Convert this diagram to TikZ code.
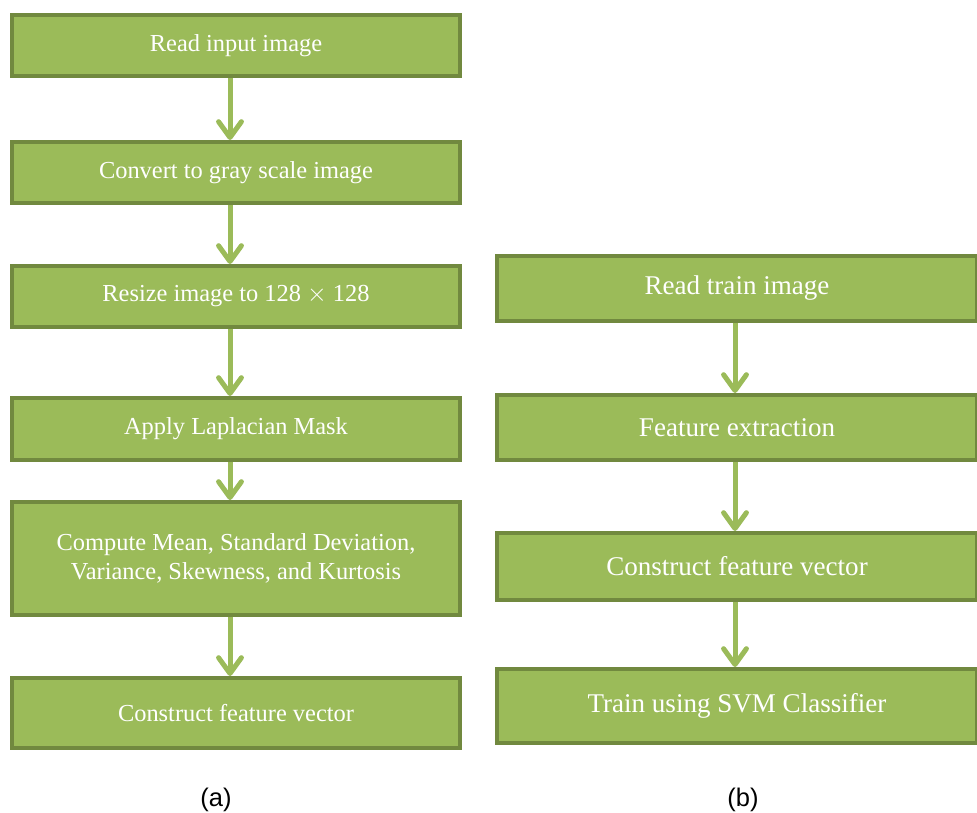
\documentclass[tikz,border=0pt]{standalone}
\usepackage{fontspec}
\setmainfont{Liberation Serif}
\newfontfamily\capfont{Liberation Sans}
\usetikzlibrary{arrows.meta}
\definecolor{boxgreen}{HTML}{9BBB59}
\definecolor{edgegreen}{HTML}{71893F}

\begin{document}
\begin{tikzpicture}[x=0.02cm, y=-0.02cm]%
	\tikzstyle{box}=[rectangle, draw=edgegreen, fill=boxgreen, line width=0.08cm, text=white, align=center];
	\tikzstyle{boxa}=[box, minimum width=8.96cm, font=\fontsize{13.9}{16.5}\selectfont];
	\tikzstyle{boxb}=[box, minimum width=9.6cm, font=\fontsize{15.4}{18}\selectfont];
	\tikzstyle{flow}=[draw=boxgreen, line width=0.1cm, -{Straight Barb[length=9pt, width=13pt, line cap=round, round]}];
	\useasboundingbox (0, 0) rectangle (977, 813);
	% (a)
	\node[boxa, minimum height=1.22cm] (a1) at (236, 45.5) {Read input image};
	\node[boxa, minimum height=1.22cm] (a2) at (236, 172.5) {Convert to gray scale image};
	\node[boxa, minimum height=1.22cm] (a3) at (236, 296.5) {Resize image to 128 $\times$ 128};
	\node[boxa, minimum height=1.24cm] (a4) at (236, 429) {Apply Laplacian Mask};
	\node[boxa, minimum height=2.26cm] (a5) at (236, 558.5) {Compute Mean, Standard Deviation,\\Variance, Skewness, and Kurtosis};
	\node[boxa, minimum height=1.40cm] (a6) at (236, 713) {Construct feature vector};
	\foreach \i/\j in {a1/a2, a2/a3, a3/a4, a4/a5, a5/a6}
		\draw[flow] ([xshift=-0.12cm]\i.south) -- ([xshift=-0.12cm]\j.north);
	% (b)
	\node[boxb, minimum height=1.30cm] (b1) at (737, 288.5) {Read train image};
	\node[boxb, minimum height=1.30cm] (b2) at (737, 427.5) {Feature extraction};
	\node[boxb, minimum height=1.34cm] (b3) at (737, 566.5) {Construct feature vector};
	\node[boxb, minimum height=1.48cm] (b4) at (737, 706) {Train using SVM Classifier};
	\foreach \i/\j in {b1/b2, b2/b3, b3/b4}
		\draw[flow] ([xshift=-0.04cm]\i.south) -- ([xshift=-0.04cm]\j.north);
	% captions
	\node[font=\capfont\fontsize{14.5}{17}\selectfont] (capa) at (216, 800) {(a)};
	\node[font=\capfont\fontsize{14.5}{17}\selectfont] (capb) at (743, 800) {(b)};
\end{tikzpicture}
\end{document}
